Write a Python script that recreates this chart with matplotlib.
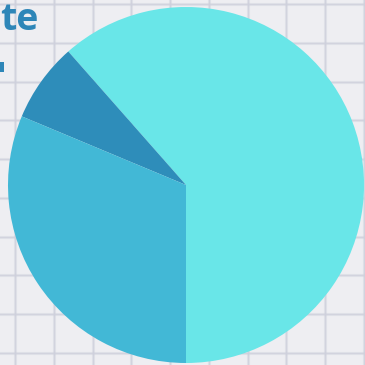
import matplotlib
matplotlib.use("Agg")
import matplotlib.pyplot as plt
from matplotlib.patches import Rectangle

# slice values (percent)
labels = ["A", "B", "C"]
values = [61.5, 7.2, 31.3]
colors = ["#69E6E8", "#2E8DBA", "#42B8D6"]

title_fragment = "te"

W = H = 365
fig = plt.figure(figsize=(3.65, 3.65), dpi=100)
fig.patch.set_facecolor("#EEEEF2")

# graph paper background
bg = fig.add_axes([0, 0, 1, 1])
bg.set_xlim(0, W)
bg.set_ylim(H, 0)
bg.axis("off")
for x in range(15, W, 38):
    bg.axvline(x + (x - 15) * 0.02, color="#CED0DC", lw=2.2, alpha=0.35)
    bg.axvline(x + (x - 15) * 0.02, color="#CED0DC", lw=1.0, alpha=0.8)
for y in range(4, H, 38):
    bg.axhline(y + (y - 4) * 0.02, color="#CED0DC", lw=2.2, alpha=0.35)
    bg.axhline(y + (y - 4) * 0.02, color="#CED0DC", lw=1.0, alpha=0.8)

# pie
ax = fig.add_axes([0, 0, 1, 1])
ax.patch.set_alpha(0)
ax.pie(values, colors=colors, startangle=-90, counterclock=True,
       center=(186, H - 185), radius=178, frame=True,
       wedgeprops=dict(linewidth=0))
ax.set_xlim(0, W)
ax.set_ylim(0, H)
ax.axis("off")

# cut-off title pieces
fig.text(0.0, 1.0 - 1 / H, title_fragment, ha="left", va="top",
         fontsize=27, fontweight="bold", family="Open Sans", color="#2E86B8")
bg.add_patch(Rectangle((0, 62), 3.5, 10, color="#2E86B8", lw=0))

fig.savefig("out.png", dpi=100)
